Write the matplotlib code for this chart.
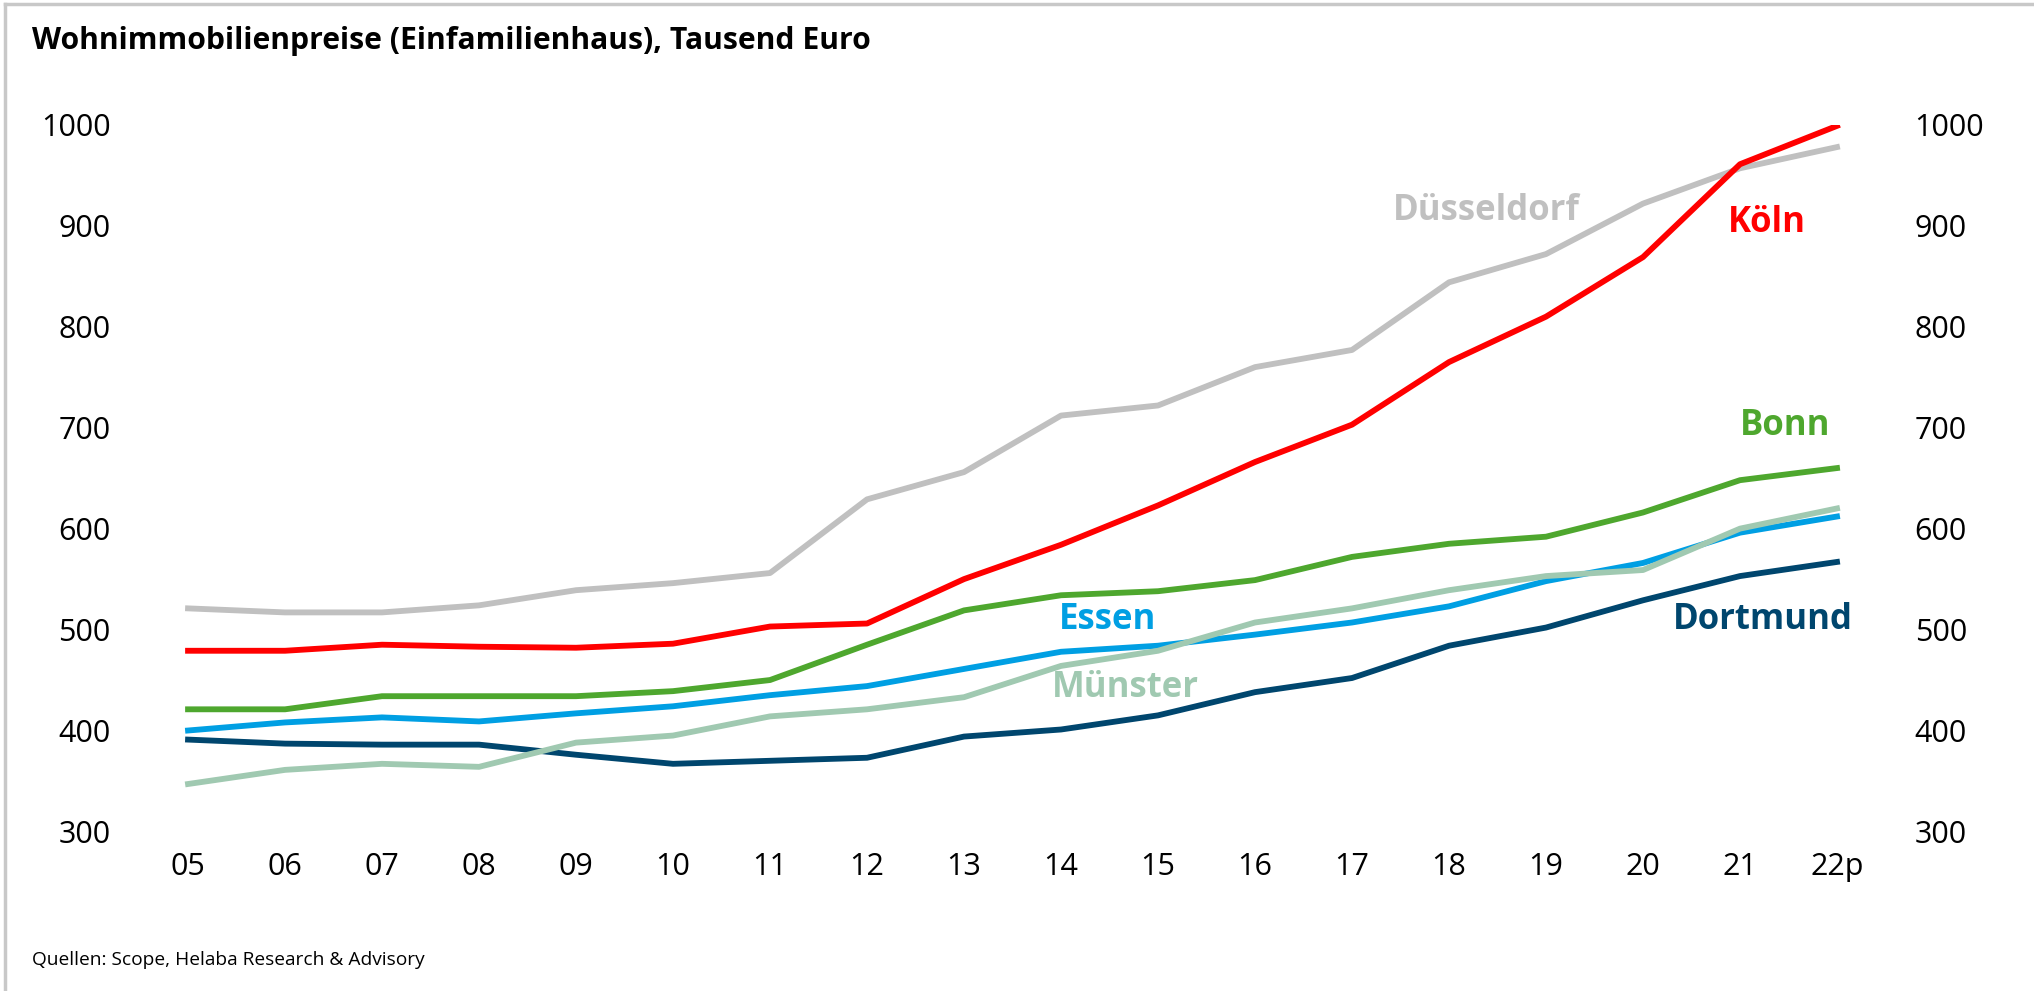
import matplotlib.pyplot as plt
from matplotlib.lines import Line2D

plt.rcParams['font.family'] = ['Open Sans', 'DejaVu Sans']

# Jahre (Achsenbeschriftung)
years = ['05', '06', '07', '08', '09', '10', '11', '12', '13',
         '14', '15', '16', '17', '18', '19', '20', '21', '22p']

# Preise in Tausend Euro
duesseldorf = [521, 517, 517, 524, 539, 546, 556, 629, 656,
               712, 722, 760, 777, 844, 872, 922, 957, 978]
koeln = [479, 479, 485, 483, 482, 486, 503, 506, 550,
         584, 623, 666, 703, 765, 810, 869, 961, 999]
bonn = [421, 421, 434, 434, 434, 439, 450, 485, 519,
        534, 538, 549, 572, 585, 592, 616, 648, 660]
essen = [400, 408, 413, 409, 417, 424, 435, 444, 461,
         478, 484, 495, 507, 523, 548, 566, 596, 612]
muenster = [347, 361, 367, 364, 388, 395, 414, 421, 433,
            464, 479, 507, 521, 539, 553, 559, 600, 620]
dortmund = [391, 387, 386, 386, 376, 367, 370, 373, 394,
            401, 415, 438, 452, 484, 502, 529, 553, 567]

c_dus = '#c0c0c0'
c_koe = '#ff0000'
c_bon = '#4ea72e'
c_ess = '#009fe3'
c_mue = '#a0c9b1'
c_dor = '#00466e'


def plot_chart():
    fig = plt.figure(figsize=(20.34, 9.91), dpi=100)
    ax = fig.add_axes([0.0686, 0.161, 0.8584, 0.713])

    x = list(range(len(years)))
    lw = 4.2
    ax.plot(x, duesseldorf, color=c_dus, lw=lw)
    ax.plot(x, dortmund, color=c_dor, lw=lw)
    ax.plot(x, essen, color=c_ess, lw=lw)
    ax.plot(x, muenster, color=c_mue, lw=lw)
    ax.plot(x, bonn, color=c_bon, lw=lw)
    ax.plot(x, koeln, color=c_koe, lw=lw)

    ax.set_xlim(-0.5, 17.5)
    ax.set_ylim(300, 1000)
    ax.set_xticks(x)
    ax.set_xticklabels(years)
    ax.set_yticks(range(300, 1001, 100))
    ax.tick_params(axis='x', length=0, pad=15, labelsize=22)
    ax.tick_params(axis='y', length=0, pad=21, labelsize=22,
                   right=True, labelright=True)
    for s in ax.spines.values():
        s.set_visible(False)

    # Beschriftungen der Linien
    lab = dict(fontsize=25, fontweight='bold', ha='center', va='center')
    ax.text(13.38, 915, 'Düsseldorf', color=c_dus, **lab)
    ax.text(16.28, 903, 'Köln', color=c_koe, **lab)
    ax.text(16.47, 702, 'Bonn', color=c_bon, **lab)
    ax.text(9.48, 509, 'Essen', color=c_ess, **lab)
    ax.text(9.66, 442, 'Münster', color=c_mue, **lab)
    ax.text(16.24, 509, 'Dortmund', color=c_dor, **lab)

    fig.text(32 / 2034, 1 - 41.5 / 991, 'Wohnimmobilienpreise (Einfamilienhaus), Tausend Euro',
             fontsize=21.7, fontweight='bold', ha='left', va='center')
    fig.text(32 / 2034, 1 - 960 / 991, 'Quellen: Scope, Helaba Research & Advisory',
             fontsize=13.8, ha='left', va='center')

    # grauer Rahmen oben und links
    fig.add_artist(Line2D([0.0025, 1], [0.996, 0.996], color='#c8c8c8', lw=2.5,
                          transform=fig.transFigure))
    fig.add_artist(Line2D([0.0025, 0.0025], [0, 0.996], color='#c8c8c8', lw=2.5,
                          transform=fig.transFigure))

    fig.savefig('out.png', dpi=100)


plot_chart()
